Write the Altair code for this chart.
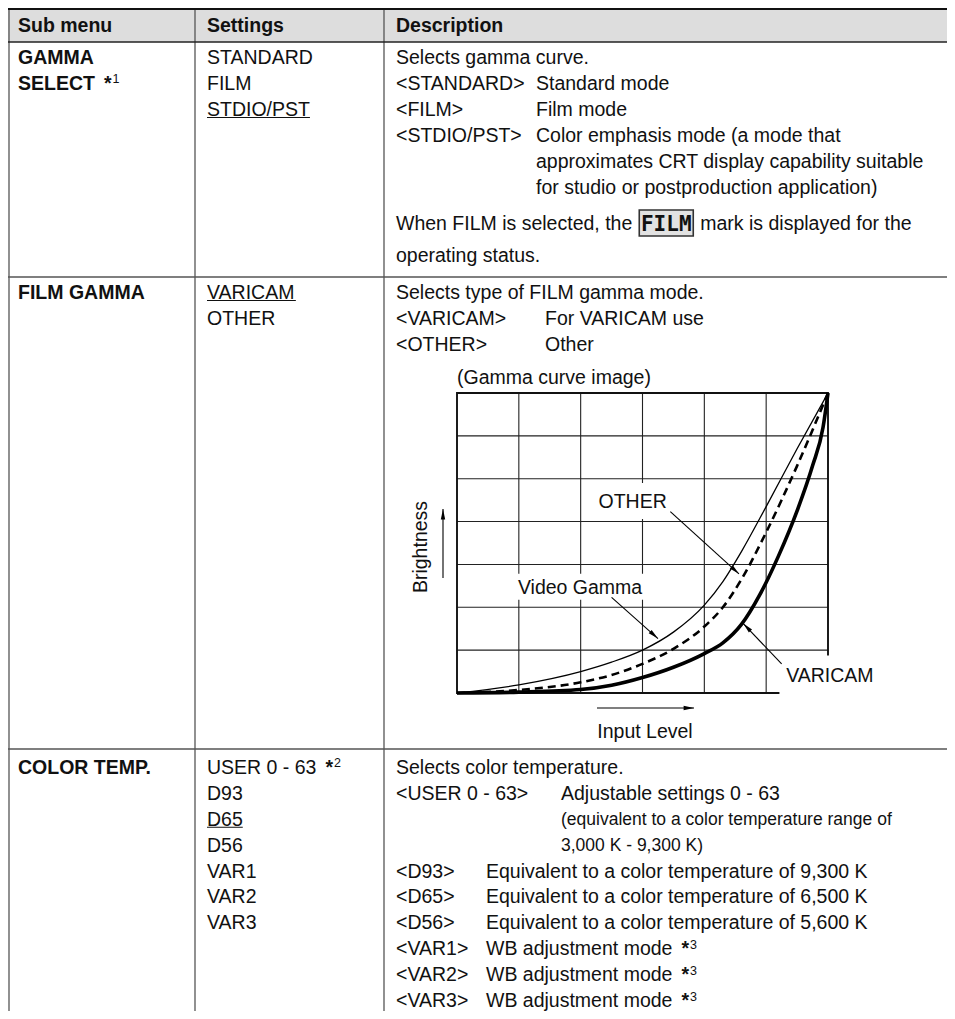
import math
import altair as alt
import pandas as pd

# ================= content =================
header_texts = ["Sub menu", "Settings", "Description"]

submenu_names = [["GAMMA", "SELECT"], ["FILM GAMMA"], ["COLOR TEMP."]]
submenu_notes = [[None, "1"], [None], [None]]

settings_names = [
    ["STANDARD", "FILM", "STDIO/PST"],
    ["VARICAM", "OTHER"],
    ["USER 0 - 63", "D93", "D65", "D56", "VAR1", "VAR2", "VAR3"],
]
settings_notes = [[None, None, None], [None, None], ["2", None, None, None, None, None, None]]
settings_default = [2, 0, 2]

desc1_tags = ["Selects gamma curve.", "<STANDARD>", "<FILM>", "<STDIO/PST>", "", ""]
desc1_texts = ["", "Standard mode", "Film mode", "Color emphasis mode (a mode that",
               "approximates CRT display capability suitable",
               "for studio or postproduction application)"]
film_note_before = "When FILM is selected, the"
film_note_mark = "FILM"
film_note_after = "mark is displayed for the"
film_note_end = "operating status."

desc2_tags = ["Selects type of FILM gamma mode.", "<VARICAM>", "<OTHER>"]
desc2_texts = ["", "For VARICAM use", "Other"]

desc3_tags = ["Selects color temperature.", "<USER 0  -  63>", "", "", "<D93>", "<D65>",
              "<D56>", "<VAR1>", "<VAR2>", "<VAR3>"]
desc3_texts = ["", "Adjustable settings 0 - 63",
               "(equivalent to a color temperature range of", "3,000 K - 9,300 K)",
               "Equivalent to a color temperature of 9,300 K",
               "Equivalent to a color temperature of 6,500 K",
               "Equivalent to a color temperature of 5,600 K",
               "WB adjustment mode", "WB adjustment mode", "WB adjustment mode"]
desc3_small = [False, False, True, True, False, False, False, False, False, False]
desc3_notes = [None, None, None, None, None, None, None, "3", "3", "3"]

# ---- gamma curve image (grid units: 6 columns x 7 rows) ----
gamma_title = "(Gamma curve image)"
axis_y_label = "Brightness"
axis_x_label = "Input Level"
grid_cols = [0, 1, 2, 3, 4, 5, 6]
grid_rows = [0, 1, 2, 3, 4, 5, 6, 7]

video_x = [0, 1, 2, 2.5, 3, 3.5, 4, 4.3, 4.6, 5, 5.5, 6]
video_y = [0, 0.19, 0.5, 0.72, 1.0, 1.42, 2.05, 2.6, 3.3, 4.35, 5.7, 7.0]
other_x = [0, 1, 2, 2.5, 3, 3.5, 4, 4.3, 4.6, 5, 5.5, 6]
other_y = [0, 0.07, 0.25, 0.42, 0.68, 1.03, 1.55, 2.0, 2.65, 3.75, 5.3, 7.0]
varicam_x = [0, 1, 2, 2.5, 3, 3.5, 4, 4.3, 4.6, 4.9, 5.2, 5.5, 5.75, 5.92, 6]
varicam_y = [0, 0.02, 0.08, 0.18, 0.36, 0.6, 0.92, 1.17, 1.6, 2.3, 3.2, 4.25, 5.3, 6.2, 7.0]

curve_labels = ["OTHER", "Video Gamma", "VARICAM"]
label_gx = [2.84, 1.99, 6.03]
label_gy = [4.48, 2.48, 0.42]
leader_from_gx = [3.45, 2.50, 5.25]
leader_from_gy = [4.23, 2.23, 0.68]
leader_to_gx = [4.56, 3.25, 4.63]
leader_to_gy = [2.78, 1.27, 1.62]

# ================= layout / style =================
FONT = "Liberation Sans"
MONO = "DejaVu Sans Mono"
FS = 19.5
FS_SMALL = 17.5
FS_SUP = 12.5
INK = "#111111"
W, H = 939, 1003
OX, OY = 8, 8
X_RIGHT = OX + W
Y_BOTTOM = OY + H

COL_RULES = [9, 195, 384]
COL_TEXT = [18, 207, 396]
HEAD_TOP, HEAD_BOT, HEAD_Y = 9, 42, 25
ROW_RULES = [277, 749]
ROW_Y = [
    [57, 83, 109, 135, 161, 187],
    [292, 318, 344],
    [767 + 25.9 * i for i in range(10)],
]
FILM_Y, STATUS_Y = 223, 255
TAB1, TAB2 = 536, 545
TAB3 = [None, 561, 561, 561, 486, 486, 486, 486, 486, 486]

GX0, GX1 = 457, 828   # grid left / right on the page
GY0, GY1 = 693, 393   # grid bottom / top on the page
PXGX = (GX1 - GX0) / 6.0
PXGY = (GY0 - GY1) / 7.0

AR = {' ': 278, '!': 278, '(': 333, ')': 333, '*': 389, ',': 278, '-': 333, '.': 278,
      '/': 278, ':': 278, '<': 584, '>': 584, 'A': 667, 'B': 667, 'C': 722, 'D': 722,
      'E': 667, 'F': 611, 'G': 778, 'H': 722, 'I': 278, 'J': 500, 'K': 667, 'L': 556,
      'M': 833, 'N': 722, 'O': 778, 'P': 667, 'Q': 778, 'R': 722, 'S': 667, 'T': 611,
      'U': 722, 'V': 667, 'W': 944, 'X': 667, 'Y': 667, 'Z': 611, 'a': 556, 'b': 556,
      'c': 500, 'd': 556, 'e': 556, 'f': 278, 'g': 556, 'h': 556, 'i': 222, 'j': 222,
      'k': 500, 'l': 222, 'm': 833, 'n': 556, 'o': 556, 'p': 556, 'q': 556, 'r': 333,
      's': 500, 't': 278, 'u': 556, 'v': 500, 'w': 722, 'x': 500, 'y': 500, 'z': 500}
AB = dict(AR)
AB.update({'A': 722, 'B': 722, 'K': 722, 'L': 611, 'b': 611, 'c': 556, 'd': 611, 'f': 333,
           'g': 611, 'h': 611, 'i': 278, 'j': 278, 'k': 556, 'l': 278, 'm': 889, 'n': 611,
           'o': 611, 'p': 611, 'q': 611, 'r': 389, 's': 556, 't': 333, 'u': 611, 'v': 556,
           'w': 778, 'x': 556, 'y': 556})


def tw(s, size=FS, bold=False):
    t = AB if bold else AR
    return sum(t.get(c, 556) for c in s) * size / 1000.0


reg, bld, sml, sup, star = [], [], [], [], []
underlines = []


def put(lst, x, y, t):
    lst.append({"x": x, "y": y, "t": t})


def note(x_end, y, digit):
    sx = x_end + 9
    put(star, sx, y, "*")
    put(sup, sx + tw("*", FS, True) + 1, y - 4, digit)


# header
for i, t in enumerate(header_texts):
    put(bld, COL_TEXT[i], HEAD_Y, t)

# sub menu + settings
for r in range(3):
    for j, t in enumerate(submenu_names[r]):
        y = ROW_Y[r][j]
        put(bld, COL_TEXT[0], y, t)
        if submenu_notes[r][j]:
            note(COL_TEXT[0] + tw(t, FS, True), y, submenu_notes[r][j])
    for j, t in enumerate(settings_names[r]):
        y = ROW_Y[r][j]
        put(reg, COL_TEXT[1], y, t)
        if settings_notes[r][j]:
            note(COL_TEXT[1] + tw(t), y, settings_notes[r][j])
        if j == settings_default[r]:
            yb = y + 0.355 * FS + 1.6
            underlines.append({"x": COL_TEXT[1], "x2": COL_TEXT[1] + tw(t), "y": yb})

# description row 1
for j in range(len(desc1_tags)):
    y = ROW_Y[0][j]
    if desc1_tags[j]:
        put(reg, COL_TEXT[2], y, desc1_tags[j])
    if desc1_texts[j]:
        put(reg, TAB1, y, desc1_texts[j])
box_x0 = COL_TEXT[2] + tw(film_note_before) + 7
box_w = 54
put(reg, COL_TEXT[2], FILM_Y, film_note_before)
put(reg, box_x0 + box_w + 7, FILM_Y, film_note_after)
put(reg, COL_TEXT[2], STATUS_Y, film_note_end)
film_box = pd.DataFrame({"x": [box_x0], "x2": [box_x0 + box_w],
                         "y": [FILM_Y - 13], "y2": [FILM_Y + 13]})
film_txt = pd.DataFrame({"x": [box_x0 + box_w / 2], "y": [FILM_Y], "t": [film_note_mark]})

# description row 2
for j in range(len(desc2_tags)):
    y = ROW_Y[1][j]
    if desc2_tags[j]:
        put(reg, COL_TEXT[2], y, desc2_tags[j])
    if desc2_texts[j]:
        put(reg, TAB2, y, desc2_texts[j])

# description row 3
for j in range(len(desc3_tags)):
    y = ROW_Y[2][j]
    if desc3_tags[j]:
        put(reg, COL_TEXT[2], y, desc3_tags[j])
    if desc3_texts[j]:
        put(sml if desc3_small[j] else reg, TAB3[j], y, desc3_texts[j])
        if desc3_notes[j]:
            note(TAB3[j] + tw(desc3_texts[j]), y, desc3_notes[j])

# ================= pixel-space (table) layers =================
XS = alt.Scale(domain=[OX, X_RIGHT], range=[0, W], nice=False, zero=False)
YS = alt.Scale(domain=[OY, Y_BOTTOM], range=[0, H], nice=False, zero=False)


def pxx(f="x"):
    return alt.X(f + ":Q", scale=XS, axis=None)


def pxy(f="y"):
    return alt.Y(f + ":Q", scale=YS, axis=None)


band = alt.Chart(pd.DataFrame({"x": [OX], "x2": [X_RIGHT], "y": [HEAD_TOP], "y2": [HEAD_BOT]})
                 ).mark_rect(color="#dddddd").encode(x=pxx(), x2="x2:Q", y=pxy(), y2="y2:Q")

hr_main = pd.DataFrame({"x": [OX] * 2, "x2": [X_RIGHT] * 2, "y": ROW_RULES})
hrules = alt.Chart(hr_main).mark_rule(color="#555555", strokeWidth=1.3).encode(
    x=pxx(), x2="x2:Q", y=pxy())
top_rule = alt.Chart(pd.DataFrame({"x": [OX], "x2": [X_RIGHT], "y": [HEAD_TOP]})).mark_rule(
    color="#111111", strokeWidth=2.2).encode(x=pxx(), x2="x2:Q", y=pxy())
head_rule = alt.Chart(pd.DataFrame({"x": [OX], "x2": [X_RIGHT], "y": [HEAD_BOT]})).mark_rule(
    color="#222222", strokeWidth=1.6).encode(x=pxx(), x2="x2:Q", y=pxy())
vrules = alt.Chart(pd.DataFrame({"x": COL_RULES, "y": [HEAD_TOP] * 3, "y2": [Y_BOTTOM] * 3})
                   ).mark_rule(color="#555555", strokeWidth=1.3).encode(x=pxx(), y=pxy(), y2="y2:Q")
ulines = alt.Chart(pd.DataFrame(underlines)).mark_rule(color=INK, strokeWidth=1.1).encode(
    x=pxx(), x2="x2:Q", y=pxy())


def text_layer(rows, size, bold=False, font=FONT, align="left"):
    return alt.Chart(pd.DataFrame(rows)).mark_text(
        align=align, baseline="alphabetic", dy=0.355 * size, font=font, fontSize=size,
        fontWeight="bold" if bold else "normal", color=INK
    ).encode(x=pxx(), y=pxy(), text="t:N")


fbox = alt.Chart(film_box).mark_rect(fill="#e2e2e2", stroke="#333333", strokeWidth=1.6).encode(
    x=pxx(), x2="x2:Q", y=pxy(), y2="y2:Q")
ftxt = alt.Chart(film_txt).mark_text(
    align="center", baseline="alphabetic", dy=7.5, font=MONO, fontSize=21, fontWeight="bold",
    color=INK).encode(x=pxx(), y=pxy(), text="t:N")

table = alt.layer(
    band, hrules, vrules, top_rule, head_rule, ulines,
    text_layer(reg, FS), text_layer(bld, FS, bold=True), text_layer(sml, FS_SMALL),
    text_layer(star, FS, bold=True), text_layer(sup, FS_SUP),
    fbox, ftxt,
)

# ================= gamma-curve layers (own scales) =================
GXS = alt.Scale(domain=[0, 6], range=[GX0 - OX, GX1 - OX], nice=False, zero=False)
GYS = alt.Scale(domain=[0, 7], range=[GY0 - OY, GY1 - OY], nice=False, zero=False)


def gx(f="gx"):
    return alt.X(f + ":Q", scale=GXS, axis=None)


def gy(f="gy"):
    return alt.Y(f + ":Q", scale=GYS, axis=None)


vgrid = alt.Chart(pd.DataFrame({"gx": grid_cols[1:-1], "gy": [0] * 5, "gy2": [7] * 5})).mark_rule(
    color="#222222", strokeWidth=1.1).encode(x=gx(), y=gy(), y2="gy2:Q")
hgrid = alt.Chart(pd.DataFrame({"gy": grid_rows[1:-1], "gx": [0] * 6, "gx2": [6] * 6})).mark_rule(
    color="#222222", strokeWidth=1.1).encode(y=gy(), x=gx(), x2="gx2:Q")
border = alt.Chart(pd.DataFrame({"gx": [0], "gx2": [6], "gy": [0], "gy2": [7]})).mark_rect(
    fill=None, stroke="#111111", strokeWidth=1.9).encode(x=gx(), x2="gx2:Q", y=gy(), y2="gy2:Q")

box_pad_x = [6, 3, 6]
box_half_h = [18, 13, 19.5]
boxes = []
for i, t in enumerate(curve_labels):
    half_w = (tw(t) / 2 + box_pad_x[i]) / PXGX
    boxes.append({"gx": label_gx[i] - half_w, "gx2": label_gx[i] + half_w,
                  "gy": label_gy[i] - box_half_h[i] / PXGY,
                  "gy2": label_gy[i] + box_half_h[i] / PXGY})
white = alt.Chart(pd.DataFrame(boxes)).mark_rect(color="white").encode(
    x=gx(), x2="gx2:Q", y=gy(), y2="gy2:Q")


def curve(xs, ys, **kw):
    df = pd.DataFrame({"gx": xs, "gy": ys, "o": list(range(len(xs)))})
    return alt.Chart(df).mark_line(interpolate="monotone", color="#000000", **kw).encode(
        x=gx(), y=gy(), order="o:Q")


c_video = curve(video_x, video_y, strokeWidth=1.3)
c_other = curve(other_x, other_y, strokeWidth=2.6, strokeDash=[8, 5])
c_varicam = curve(varicam_x, varicam_y, strokeWidth=3.6)


def ang(x0, y0, x1, y1):
    dxp = (x1 - x0) * PXGX
    dyp = -(y1 - y0) * PXGY
    return math.degrees(math.atan2(dxp, -dyp)) % 360


# leaders (curve labels) and axis arrows
ax_y_gx = (443 - GX0) / PXGX
ax_y_from, ax_y_to = (GY0 - 578) / PXGY, (GY0 - 509) / PXGY
ax_x_gy = (GY0 - 708) / PXGY
ax_x_from, ax_x_to = (597 - GX0) / PXGX, (694 - GX0) / PXGX

seg = []
for i in range(3):
    seg.append({"gx": leader_from_gx[i], "gy": leader_from_gy[i],
                "gx2": leader_to_gx[i], "gy2": leader_to_gy[i]})
seg.append({"gx": ax_y_gx, "gy": ax_y_from, "gx2": ax_y_gx, "gy2": ax_y_to})
seg.append({"gx": ax_x_from, "gy": ax_x_gy, "gx2": ax_x_to, "gy2": ax_x_gy})
seg_df = pd.DataFrame(seg)
leaders = alt.Chart(seg_df).mark_rule(color="#000000", strokeWidth=1.1).encode(
    x=gx(), y=gy(), x2="gx2:Q", y2="gy2:Q")
heads_df = pd.DataFrame({
    "gx": seg_df["gx2"], "gy": seg_df["gy2"],
    "ang": [ang(r.gx, r.gy, r.gx2, r.gy2) for r in seg_df.itertuples()],
})
ARROW = "M0,0L0.55,2.6L-0.55,2.6Z"
heads = alt.Chart(heads_df).mark_point(
    shape=ARROW, filled=True, size=64, color="#000000", opacity=1, strokeWidth=0
).encode(x=gx(), y=gy(), angle=alt.Angle("ang:Q", scale=None))

lab = alt.Chart(pd.DataFrame({"gx": label_gx, "gy": label_gy, "t": curve_labels})).mark_text(
    align="center", baseline="alphabetic", dy=0.355 * FS, font=FONT, fontSize=FS, color=INK
).encode(x=gx(), y=gy(), text="t:N")

title_df = pd.DataFrame({"gx": [0], "gy": [(GY0 - 377) / PXGY], "t": [gamma_title]})
g_title = alt.Chart(title_df).mark_text(
    align="left", baseline="alphabetic", dy=0.355 * FS, font=FONT, fontSize=FS, color=INK
).encode(x=gx(), y=gy(), text="t:N")
xl_df = pd.DataFrame({"gx": [(645 - GX0) / PXGX], "gy": [(GY0 - 731) / PXGY], "t": [axis_x_label]})
x_lab = alt.Chart(xl_df).mark_text(
    align="center", baseline="alphabetic", dy=0.355 * FS, font=FONT, fontSize=FS, color=INK
).encode(x=gx(), y=gy(), text="t:N")
yl_df = pd.DataFrame({"gx": [(421 - GX0) / PXGX], "gy": [(GY0 - 547) / PXGY], "t": [axis_y_label]})
y_lab = alt.Chart(yl_df).mark_text(
    align="center", baseline="middle", angle=270, font=FONT, fontSize=FS, color=INK
).encode(x=gx(), y=gy(), text="t:N")

gamma = alt.layer(vgrid, hgrid, border, white, c_video, c_other, c_varicam,
                  leaders, heads, lab, g_title, x_lab, y_lab)

chart = alt.layer(table, gamma).resolve_scale(x="independent", y="independent").properties(
    width=W, height=H, padding=0, autosize=alt.AutoSizeParams(type="none"),
    background="white",
).configure_view(stroke=None)

chart.save("out.html", embed_options={"renderer": "svg", "actions": False})
